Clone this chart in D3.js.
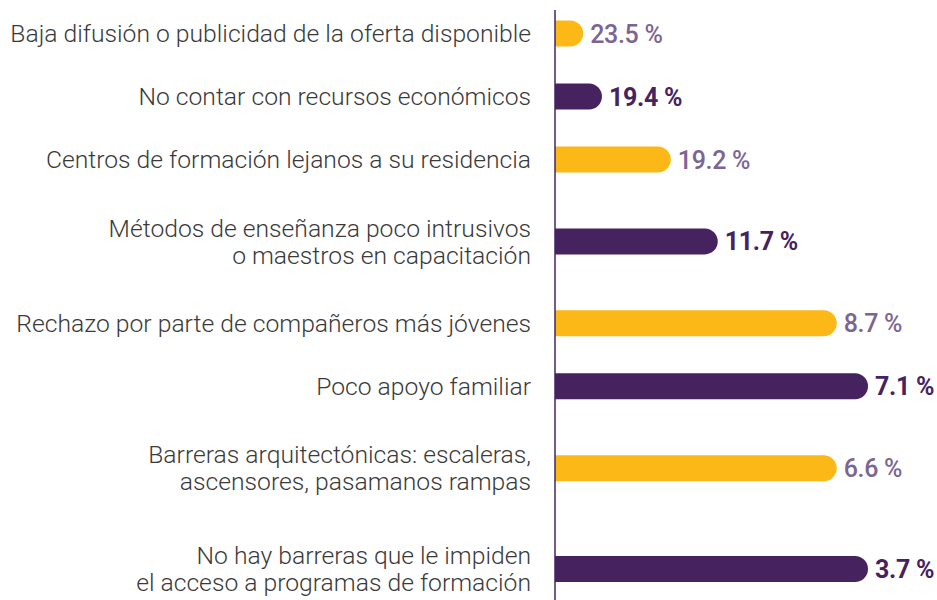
<!DOCTYPE html>
<html><head><meta charset="utf-8">
<script src="https://cdn.jsdelivr.net/npm/d3@7"></script>
<style>html,body{margin:0;padding:0;background:#fff;} svg{display:block;}</style>
</head><body><svg id="chart" width="937" height="600"></svg>
<script>
// ---- data ----
const categories = [
  "Baja difusión o publicidad de la oferta disponible",
  "No contar con recursos económicos",
  "Centros de formación lejanos a su residencia",
  "Métodos de enseñanza poco intrusivos\no maestros en capacitación",
  "Rechazo por parte de compañeros más jóvenes",
  "Poco apoyo familiar",
  "Barreras arquitectónicas: escaleras,\nascensores, pasamanos rampas",
  "No hay barreras que le impiden\nel acceso a programas de formación"
];
const values = [23.5, 19.4, 19.2, 11.7, 8.7, 7.1, 6.6, 3.7];
// bar lengths as drawn in the original graphic (relative units, longest = 100)
const barLengths = [9, 15, 37, 52, 90, 100, 90, 100];
const valueLabels = values.map(v => v.toFixed(1) + " %");

// ---- layout / style ----
const W = 937, H = 600;
const axisX = 555, maxBarEnd = 868;
const barH = 26;
const colors = ["#FBB817", "#46235E"];
const labelColors = ["#7B6592", "#46235E"];
const labelWeights = [500, 700];

const svg = d3.select("#chart");

const rows = categories.map((c, i) => ({
  cat: c, lines: c.split("\n"), value: values[i], len: barLengths[i], label: valueLabels[i], i
}));
// row weights from number of text lines
const extra = 0.6;
let cum = 0;
rows.forEach(r => { const w = 1 + extra * (r.lines.length - 1); r.center = cum + w / 2; cum += w; });

const rowUnit = 63, yStart = 2;
const y = d3.scaleLinear().domain([0, cum]).range([yStart, yStart + cum * rowUnit]);
const x = d3.scaleLinear().domain([0, 100]).range([axisX, maxBarEnd]);

// bars (flat left end, rounded right end)
function barPath(x0, x1, yc, h) {
  const r = h / 2;
  const xe = Math.max(x0, x1 - r);
  return `M${x0},${yc - r}H${xe}A${r},${r} 0 0 1 ${xe},${yc + r}H${x0}Z`;
}
svg.append("g").selectAll("path").data(rows).join("path")
  .attr("d", d => barPath(x(0), x(d.len), y(d.center), barH))
  .attr("fill", d => colors[d.i % 2]);

// axis line
svg.append("line")
  .attr("x1", x(0)).attr("x2", x(0))
  .attr("y1", 10).attr("y2", H)
  .attr("stroke", "#46235E").attr("stroke-width", 1.5);

// category labels
const labG = svg.append("g")
  .attr("font-family", "Roboto, 'Noto Sans', sans-serif")
  .attr("font-weight", 300)
  .attr("fill", "#3a3a3a")
  .attr("text-anchor", "end");
let fs = 24;
const lineGap = 27;
const texts = labG.selectAll("text").data(rows).join("text")
  .attr("x", 531)
  .attr("font-size", fs);
texts.each(function(d) {
  const t = d3.select(this);
  const n = d.lines.length;
  d.lines.forEach((ln, k) => {
    t.append("tspan").attr("x", 531)
      .attr("y", y(d.center) + (k - (n - 1) / 2) * lineGap)
      .attr("dy", "0.35em")
      .text(ln);
  });
});
// fit font size to the width of the original labels
let maxW = 0;
labG.selectAll("tspan").each(function() { maxW = Math.max(maxW, this.getComputedTextLength()); });
fs = fs * 521 / maxW;
texts.attr("font-size", fs);

// value labels
svg.append("g").selectAll("text").data(rows).join("text")
  .attr("x", d => x(d.len) + 7)
  .attr("y", d => y(d.center))
  .attr("dy", "0.36em")
  .attr("font-family", "Roboto, sans-serif")
  .attr("font-size", 25)
  .attr("letter-spacing", -0.3)
  .attr("font-weight", d => labelWeights[d.i % 2])
  .attr("fill", d => labelColors[d.i % 2])
  .text(d => d.label);
</script>
</body></html>
